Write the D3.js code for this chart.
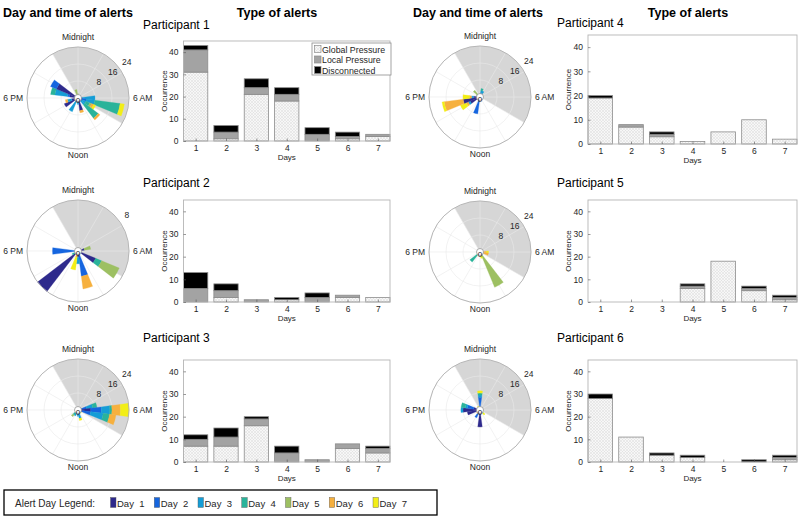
<!DOCTYPE html>
<html>
<head>
<meta charset="utf-8">
<script src="https://cdnjs.cloudflare.com/ajax/libs/d3/7.8.5/d3.min.js"></script>
<style>
  body { margin: 0; background: #fff; }
  svg { font-family: "Liberation Sans", Arial, sans-serif; }
</style>
</head>
<body>
<svg id="chart" width="800" height="518"></svg>
<script>
// ---- data ----
const days = [1, 2, 3, 4, 5, 6, 7]
const dayColors = ["#2e2a8c", "#1565df", "#159dd6", "#2ab39a", "#9dc062", "#f6b03e", "#f2ee16"]
const alertTypes = ["Global Pressure", "Local Pressure", "Disconnected"]
const countTicks = [0, 10, 20, 30, 40]
const radiusTicks = [8, 16, 24]

// type of alerts, per day 1..7
const p1Global = [31, 1, 21, 18, 0, 1, 2]
const p1Local  = [10, 3, 3, 3, 3, 1, 1]
const p1Disc   = [2, 3, 4, 3, 3, 2, 0]
const p2Global = [0, 2, 0, 1, 0, 2, 2]
const p2Local  = [6, 3, 1, 0, 2, 1, 0]
const p2Disc   = [7, 3, 0, 1, 2, 0, 0]
const p3Global = [7, 7, 16, 0, 0, 6, 4]
const p3Local  = [3, 4, 3, 4, 1, 2, 2]
const p3Disc   = [2, 4, 1, 3, 0, 0, 1]
const p4Global = [19, 7, 3, 1, 5, 10, 2]
const p4Local  = [0, 1, 1, 0, 0, 0, 0]
const p4Disc   = [1, 0, 1, 0, 0, 0, 0]
const p5Global = [0, 0, 0, 6, 18, 5, 1]
const p5Local  = [0, 0, 0, 1, 0, 1, 1]
const p5Disc   = [0, 0, 0, 1, 0, 1, 1]
const p6Global = [28, 11, 3, 2, 0, 0, 1]
const p6Local  = [0, 0, 0, 0, 0, 0, 1]
const p6Disc   = [2, 0, 1, 1, 0, 1, 1]

// alerts by hour of day (bins centred on the hour): [hour, day1 .. day7]
const p1Hours = [
  [0, 0, 0, 0, 0, 2, 0, 0],
  [6, 1, 1, 6, 0, 0, 0, 0],
  [7, 2, 2, 4, 12, 0, 0, 2],
  [8, 2, 0, 2, 2, 1, 1, 1],
  [9, 2, 0, 2, 8, 0, 1, 0],
  [11, 6, 0, 0, 0, 0, 1, 0],
  [12, 2, 0, 1, 0, 0, 0, 0],
  [14, 2, 0, 5, 0, 0, 0, 0],
  [16, 7, 0, 0, 0, 0, 0, 0],
  [17, 3, 0, 2, 0, 0, 1, 0],
  [19, 4, 1, 6, 2, 0, 0, 0],
  [20, 11, 3, 0, 0, 0, 0, 0],
  [23, 1, 0, 0, 0, 3, 0, 0]
]
const p2Hours = [
  [5, 1, 0, 0, 0, 1, 0, 0],
  [8, 3, 0, 0, 1, 3, 0, 0],
  [11, 0, 4, 0, 0, 0, 2, 0],
  [12, 1, 0, 1, 0, 0, 0, 0],
  [13, 0, 0, 0, 0, 0, 1, 2],
  [15, 8, 0, 0, 0, 0, 0, 0],
  [16, 0, 0, 0, 1, 0, 0, 0],
  [18, 0, 4, 0, 0, 0, 0, 0]
]
const p3Hours = [
  [5, 2, 2, 3, 2, 0, 0, 0],
  [6, 6, 5, 4, 1, 0, 4, 4],
  [7, 2, 4, 6, 3, 0, 3, 0],
  [9, 0, 0, 1, 0, 0, 0, 1],
  [11, 1, 1, 2, 0, 0, 0, 1],
  [12, 1, 0, 2, 0, 0, 0, 0],
  [13, 0, 0, 0, 0, 0, 0, 1],
  [14, 0, 2, 1, 0, 0, 0, 0],
  [15, 0, 1, 1, 1, 1, 0, 0],
  [16, 0, 0, 0, 0, 0, 1, 0]
]
const p4Hours = [
  [1, 0, 2, 1, 1, 0, 0, 0],
  [2, 1, 0, 2, 0, 0, 0, 0],
  [13, 2, 6, 0, 0, 0, 0, 0],
  [16, 5, 0, 1, 0, 0, 1, 3],
  [17, 8, 0, 0, 0, 0, 9, 1],
  [18, 3, 0, 1, 0, 0, 1, 3],
  [20, 0, 0, 0, 0, 2, 0, 0],
  [21, 1, 0, 0, 0, 3, 0, 0]
]
const p5Hours = [
  [6, 0, 0, 0, 1, 0, 2, 1],
  [7, 0, 0, 0, 0, 0, 4, 0],
  [10, 0, 0, 0, 0, 18, 0, 0],
  [11, 0, 0, 0, 1, 0, 1, 1],
  [15, 0, 0, 0, 6, 0, 0, 0],
  [18, 0, 0, 0, 0, 0, 0, 1]
]
const p6Hours = [
  [0, 0, 6, 1, 1, 0, 0, 1],
  [9, 1, 0, 1, 0, 0, 0, 1],
  [12, 8, 0, 0, 0, 0, 0, 0],
  [14, 2, 2, 0, 0, 0, 0, 0],
  [15, 1, 0, 0, 0, 0, 1, 0],
  [17, 6, 0, 0, 0, 0, 0, 0],
  [18, 8, 0, 1, 0, 0, 0, 0],
  [19, 3, 3, 1, 2, 0, 0, 0],
  [22, 1, 0, 0, 0, 0, 0, 1]
]

// ---- layout ----
const panels = [
  {title: "Participant 1", hours: p1Hours, g: p1Global, l: p1Local, d: p1Disc, rMax: 24,
   cx: 78, cy: 98, bx: [183.5, 390], by: [41, 141], tx: 143, ty: 29, legend: true},
  {title: "Participant 2", hours: p2Hours, g: p2Global, l: p2Local, d: p2Disc, rMax: 8,
   cx: 78, cy: 251, bx: [183.5, 390], by: [200, 302], tx: 143, ty: 187},
  {title: "Participant 3", hours: p3Hours, g: p3Global, l: p3Local, d: p3Disc, rMax: 24,
   cx: 78, cy: 410, bx: [183.5, 390], by: [360, 462], tx: 143, ty: 342},
  {title: "Participant 4", hours: p4Hours, g: p4Global, l: p4Local, d: p4Disc, rMax: 24,
   cx: 480, cy: 97, bx: [588, 797], by: [35, 144], tx: 557, ty: 27},
  {title: "Participant 5", hours: p5Hours, g: p5Global, l: p5Local, d: p5Disc, rMax: 24,
   cx: 480, cy: 252, bx: [588, 797], by: [200, 302], tx: 557, ty: 187},
  {title: "Participant 6", hours: p6Hours, g: p6Global, l: p6Local, d: p6Disc, rMax: 24,
   cx: 480, cy: 410, bx: [588, 797], by: [360, 462], tx: 557, ty: 342}
]

const svg = d3.select("#chart")
const R = 51
const txt = "#262626"

const defs = svg.append("defs")
const pat = defs.append("pattern").attr("id", "hatch")
                .attr("width", 3).attr("height", 3)
                .attr("patternUnits", "userSpaceOnUse")
pat.append("rect").attr("width", 3).attr("height", 3).attr("fill", "#f7f7f7")
pat.append("path").attr("d", "M0,3L3,0M0,0L3,3").attr("stroke", "#dadada").attr("stroke-width", 0.5)

const typeFill = ["url(#hatch)", "#a3a3a3", "#000"]

// column headers
const headers = [["Day and time of alerts", 68], ["Type of alerts", 277],
                 ["Day and time of alerts", 478], ["Type of alerts", 688]]
svg.selectAll("text.hdr").data(headers).join("text")
   .attr("class", "hdr")
   .attr("x", d => d[1]).attr("y", 17)
   .attr("text-anchor", "middle")
   .attr("font-size", 12.5).attr("font-weight", "bold")
   .attr("fill", "#000")
   .text(d => d[0])

function drawPolar(p) {
  const g = svg.append("g").attr("transform", `translate(${p.cx},${p.cy})`)
  const r = d3.scaleLinear().domain([0, p.rMax]).range([0, R])
  const ang = d3.scaleLinear().domain([0, 24]).range([0, 2 * Math.PI])
  const arc = d3.arc()

  g.append("circle").attr("r", R).attr("fill", "#fff")
  // night shading 10 PM .. 8 AM
  g.append("path")
   .attr("d", arc({innerRadius: 0, outerRadius: R, startAngle: ang(-2), endAngle: ang(8)}))
   .attr("fill", "#d6d6d6")

  // grid
  const rt = radiusTicks.filter(t => t <= p.rMax)
  g.selectAll("circle.grid").data(rt).join("circle")
   .attr("class", "grid").attr("r", d => r(d))
   .attr("fill", "none").attr("stroke", "#e9e9e9").attr("stroke-width", 0.6)
  g.selectAll("line.spoke").data(d3.range(0, 24, 2)).join("line")
   .attr("class", "spoke")
   .attr("x2", d => R * Math.sin(ang(d)))
   .attr("y2", d => -R * Math.cos(ang(d)))
   .attr("stroke", "#e9e9e9").attr("stroke-width", 0.6)

  // stacked wedges, day 1 innermost
  const wedges = []
  p.hours.forEach(row => {
    let acc = 0
    row.slice(1).forEach((v, i) => {
      if (v > 0) wedges.push({h: row[0], lo: acc, hi: acc + v, day: i})
      acc += v
    })
  })
  g.selectAll("path.wedge").data(wedges).join("path")
   .attr("class", "wedge")
   .attr("d", w => arc({innerRadius: r(w.lo), outerRadius: r(w.hi),
                        startAngle: ang(w.h - 0.5), endAngle: ang(w.h + 0.5)}))
   .attr("fill", w => dayColors[w.day])
   .attr("stroke", w => dayColors[w.day]).attr("stroke-width", 0.3)

  g.append("circle").attr("r", R).attr("fill", "none")
   .attr("stroke", "#b0b0b0").attr("stroke-width", 0.9)
  g.append("circle").attr("r", 3.5).attr("fill", "#fff")
   .attr("stroke", "#8a8a8a").attr("stroke-width", 0.7)
  g.append("text").attr("x", 0).attr("y", 5).attr("text-anchor", "middle")
   .attr("font-size", 8).attr("fill", txt).text("0")

  // radius labels
  const a0 = 55 * Math.PI / 180
  g.selectAll("text.rt").data(rt).join("text")
   .attr("class", "rt")
   .attr("x", d => r(d) * Math.sin(a0) + 7)
   .attr("y", d => -r(d) * Math.cos(a0) - 6.5 + 3)
   .attr("text-anchor", "middle").attr("font-size", 8.5).attr("fill", txt)
   .text(d => d)

  // hour labels
  const lab = g.append("g").attr("font-size", 8.5).attr("fill", txt)
  lab.append("text").attr("x", 0).attr("y", -R - 7).attr("text-anchor", "middle").text("Midnight")
  lab.append("text").attr("x", 0).attr("y", R + 9).attr("text-anchor", "middle").text("Noon")
  lab.append("text").attr("x", -R - 4).attr("y", 3).attr("text-anchor", "end").text("6 PM")
  lab.append("text").attr("x", R + 4).attr("y", 3).attr("text-anchor", "start").text("6 AM")
}

function drawBars(p) {
  const g = svg.append("g")
  const x = d3.scaleLinear().domain([0.6, 7.4]).range(p.bx)
  const y = d3.scaleLinear().domain([0, 45]).range([p.by[1], p.by[0]])

  const rows = days.map((d, i) => ({day: d, g: p.g[i], l: p.l[i], d: p.d[i]}))
  const stack = d3.stack().keys(["g", "l", "d"])(rows)

  g.append("rect")
   .attr("x", p.bx[0]).attr("y", p.by[0])
   .attr("width", p.bx[1] - p.bx[0]).attr("height", p.by[1] - p.by[0])
   .attr("fill", "#fff")

  stack.forEach((layer, k) => {
    g.selectAll(null).data(layer.filter(s => s[1] > s[0])).join("rect")
     .attr("x", s => x(s.data.day - 0.4))
     .attr("width", s => x(s.data.day + 0.4) - x(s.data.day - 0.4))
     .attr("y", s => y(s[1]))
     .attr("height", s => y(s[0]) - y(s[1]))
     .attr("fill", typeFill[k])
     .attr("stroke", "#8c8c8c").attr("stroke-width", 0.8)
  })

  g.append("rect")
   .attr("x", p.bx[0]).attr("y", p.by[0])
   .attr("width", p.bx[1] - p.bx[0]).attr("height", p.by[1] - p.by[0])
   .attr("fill", "none").attr("stroke", "#b5b5b5").attr("stroke-width", 0.9)

  const ya = g.append("g").attr("transform", `translate(${p.bx[0]},0)`)
              .call(d3.axisLeft(y).tickValues(countTicks).tickSizeInner(-2.5)
                    .tickSizeOuter(0).tickPadding(5))
  const xa = g.append("g").attr("transform", `translate(0,${p.by[1]})`)
              .call(d3.axisBottom(x).tickValues(days).tickFormat(d3.format("d"))
                    .tickSizeInner(-2.5).tickSizeOuter(0).tickPadding(4))
  ;[ya, xa].forEach(a => {
    a.select(".domain").remove()
    a.selectAll("line").attr("stroke", "#555").attr("stroke-width", 0.6)
    a.selectAll("text").attr("font-size", 8.5).attr("fill", txt)
     .attr("font-family", "Liberation Sans, Arial, sans-serif")
  })

  const midY = (p.by[0] + p.by[1]) / 2
  g.append("text")
   .attr("transform", `translate(${p.bx[0] - 17},${midY}) rotate(-90)`)
   .attr("text-anchor", "middle").attr("font-size", 8).attr("fill", txt)
   .text("Occurrence")
  g.append("text")
   .attr("x", (p.bx[0] + p.bx[1]) / 2).attr("y", p.by[1] + 19)
   .attr("text-anchor", "middle").attr("font-size", 8).attr("fill", txt)
   .text("Days")

  svg.append("text").attr("x", p.tx).attr("y", p.ty)
     .attr("font-size", 12).attr("fill", "#000").text(p.title)

  if (p.legend) {
    const lg = g.append("g").attr("transform", `translate(${p.bx[1] - 78},${p.by[0] + 2})`)
    lg.append("rect").attr("width", 79).attr("height", 32)
      .attr("fill", "#fff").attr("stroke", "#8c8c8c").attr("stroke-width", 0.8)
    alertTypes.forEach((t, i) => {
      lg.append("rect").attr("x", 2.5).attr("y", 2.5 + i * 10.5)
        .attr("width", 6.5).attr("height", 7)
        .attr("fill", typeFill[i]).attr("stroke", "#8c8c8c").attr("stroke-width", 0.7)
      lg.append("text").attr("x", 10).attr("y", 9.5 + i * 10.5)
        .attr("font-size", 8.8).attr("fill", txt).text(t)
    })
  }
}

panels.forEach(p => { drawPolar(p); drawBars(p) })

// alert day legend
const bl = svg.append("g")
bl.append("rect").attr("x", 4).attr("y", 490).attr("width", 433).attr("height", 25)
  .attr("fill", "#fff").attr("stroke", "#000").attr("stroke-width", 1.3)
bl.append("text").attr("x", 15).attr("y", 506.5).attr("font-size", 10).attr("fill", txt)
  .text("Alert Day Legend:")
const dx = d3.scaleLinear().domain([1, 7]).range([110.5, 373])
days.forEach((d, i) => {
  bl.append("rect").attr("x", dx(d)).attr("y", 497.5).attr("width", 5.5).attr("height", 10)
    .attr("fill", dayColors[i]).attr("stroke", "#555").attr("stroke-width", 0.4)
  bl.append("text").attr("x", dx(d) + 6.5).attr("y", 506.5)
    .attr("font-size", 9.5).attr("fill", txt).style("white-space", "pre")
    .text("Day  " + d)
})
</script>
</body>
</html>
